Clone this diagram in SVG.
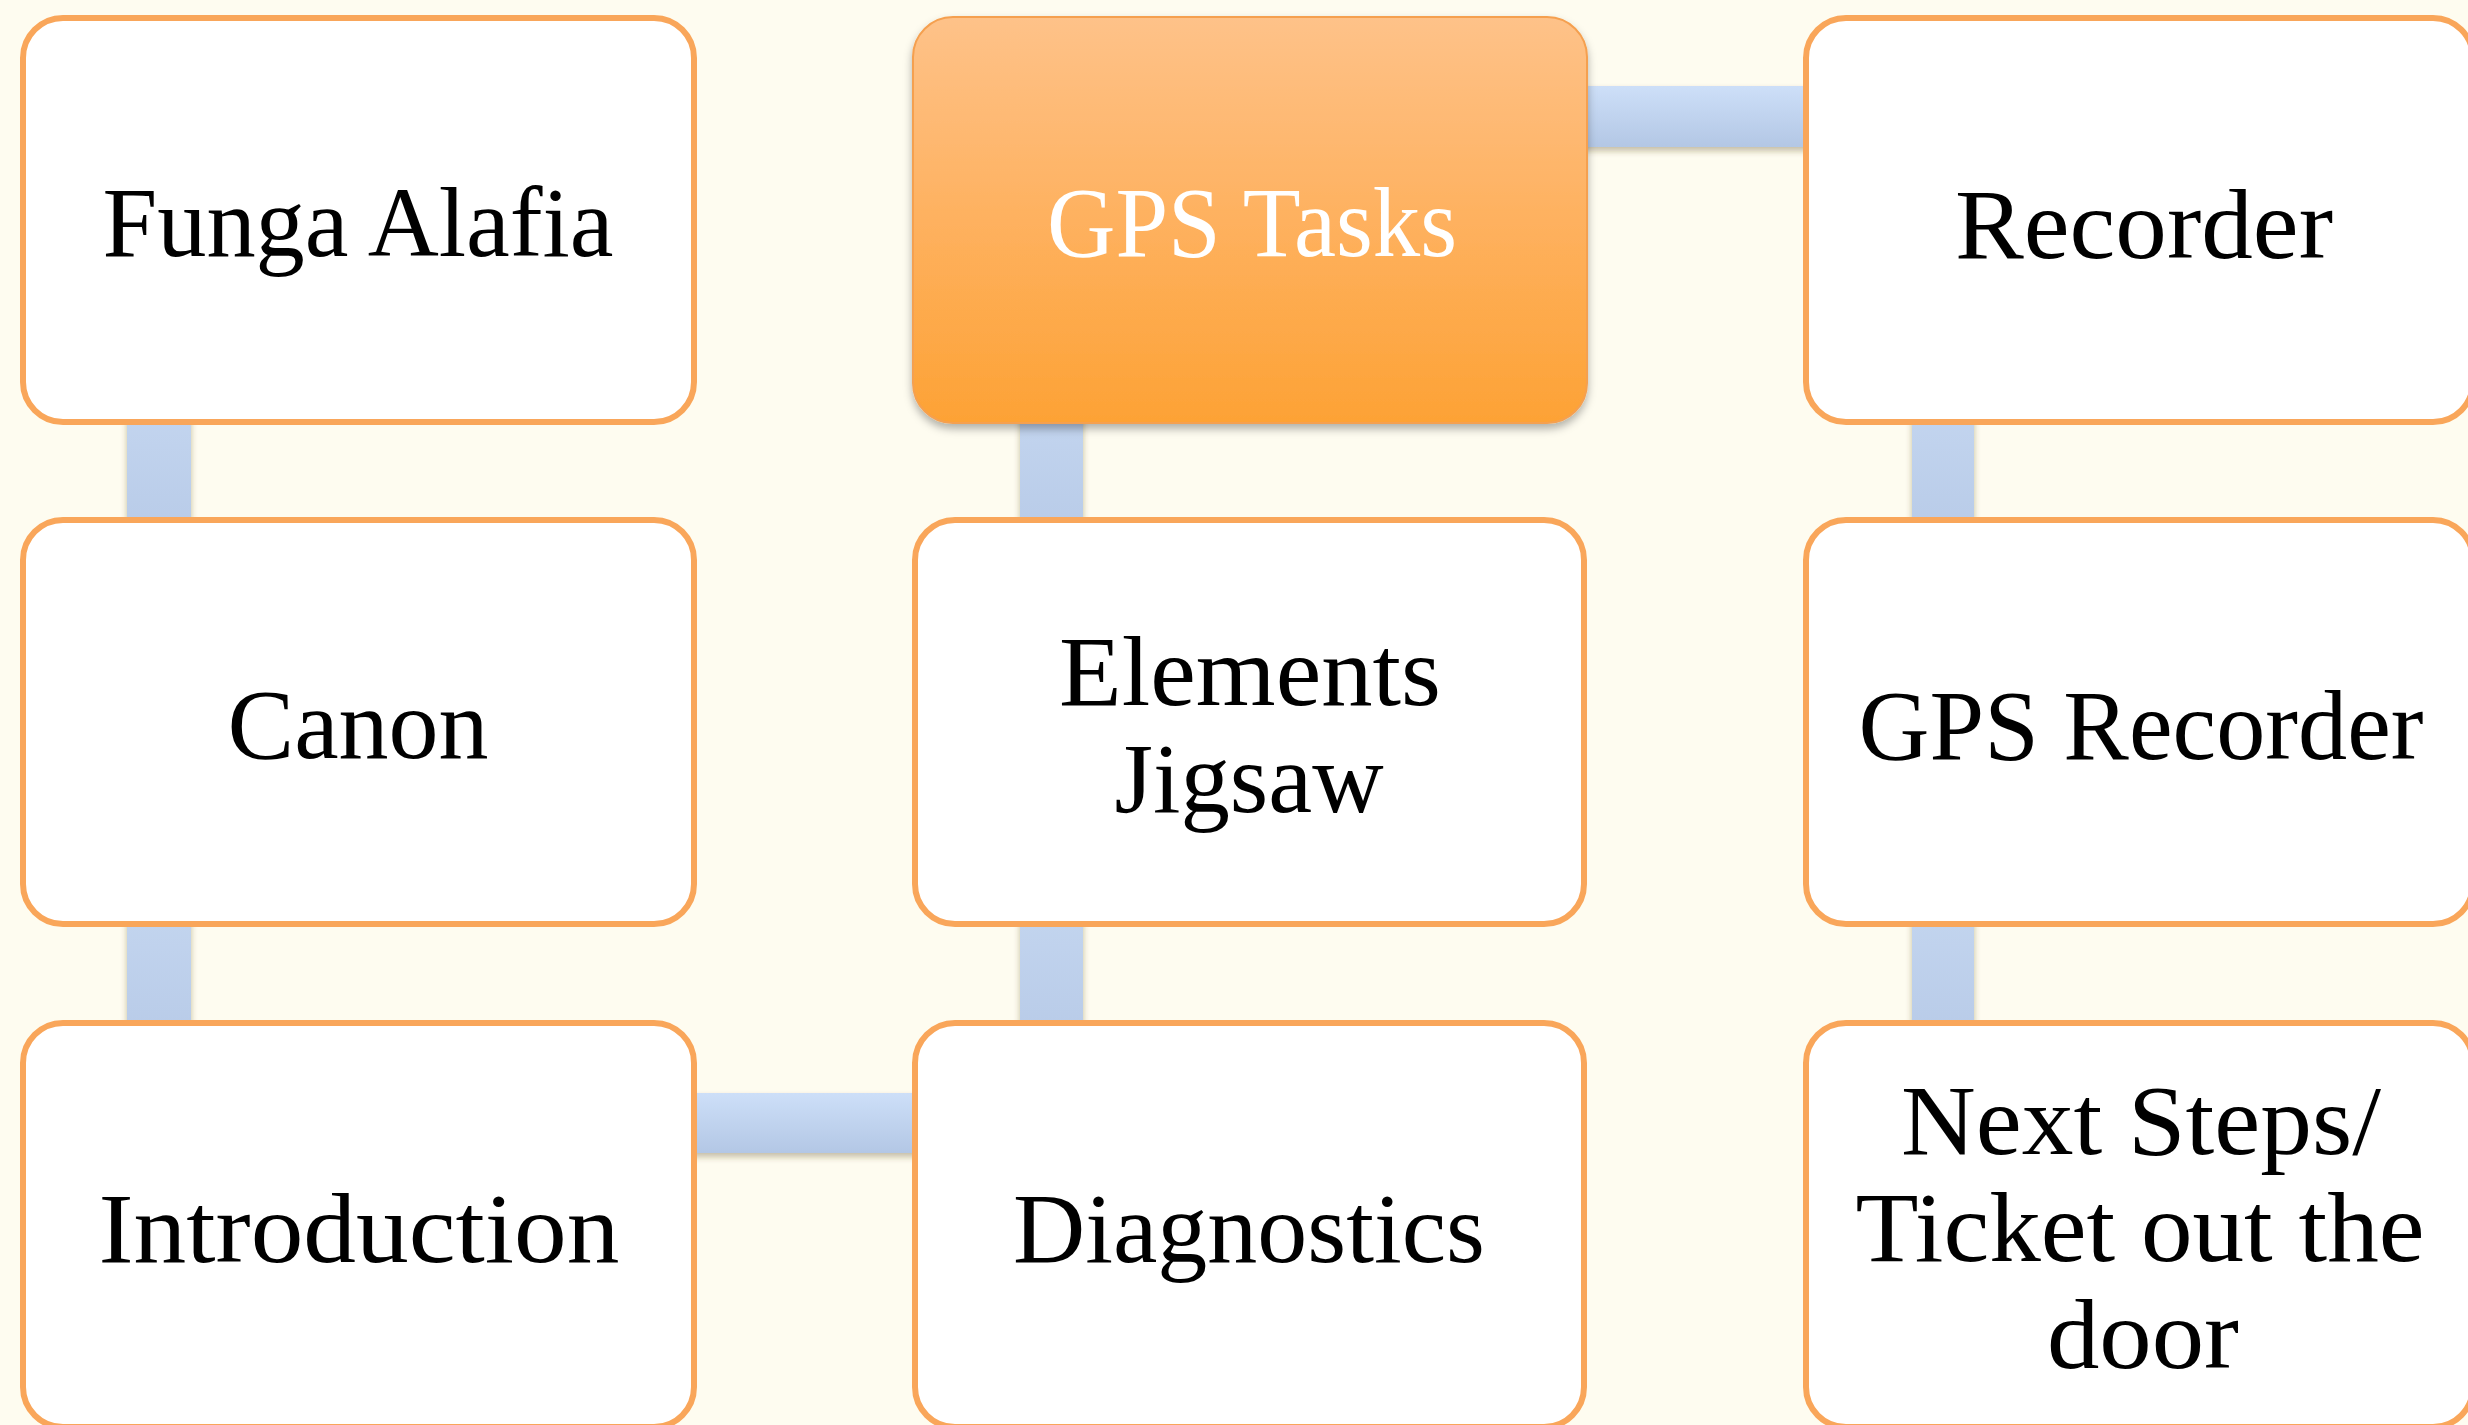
<svg xmlns="http://www.w3.org/2000/svg" width="2468" height="1425" viewBox="0 0 2468 1425">
<style>
  .box { fill: #FFFFFF; stroke: #F9A65A; stroke-width: 6; }
  .lbl { font-family: "Liberation Serif", "DejaVu Serif", serif; font-size: 100px; fill: #000000; text-anchor: middle; }
  .lblw { font-family: "Liberation Serif", "DejaVu Serif", serif; font-size: 100px; fill: #FFFFFF; text-anchor: middle; }
</style>
<defs>
  <linearGradient id="orangeGrad" x1="0" y1="0" x2="0" y2="1">
    <stop offset="0" stop-color="#FEC289"/>
    <stop offset="0.5" stop-color="#FEB15F"/>
    <stop offset="1" stop-color="#FDA235"/>
  </linearGradient>
  <linearGradient id="connH" x1="0" y1="0" x2="0" y2="1">
    <stop offset="0" stop-color="#CDDFF8"/>
    <stop offset="1" stop-color="#B3C7E5"/>
  </linearGradient>
  <linearGradient id="connV" x1="0" y1="0" x2="0" y2="1">
    <stop offset="0" stop-color="#C3D5EF"/>
    <stop offset="1" stop-color="#B8CBE8"/>
  </linearGradient>
  <filter id="shadow" x="-10%" y="-10%" width="120%" height="130%">
    <feDropShadow dx="0" dy="5" stdDeviation="4" flood-color="#000000" flood-opacity="0.3"/>
  </filter>
  <filter id="cshadow" x="-10%" y="-20%" width="120%" height="160%">
    <feDropShadow dx="0" dy="4" stdDeviation="3" flood-color="#5A4A20" flood-opacity="0.35"/>
  </filter>
</defs>
<rect x="0" y="0" width="2468" height="1425" fill="#FEFCF0"/>

<g id="connectors" filter="url(#cshadow)">
  <rect x="127" y="410" width="64" height="125" fill="url(#connV)"/>
  <rect x="127" y="912" width="64" height="125" fill="url(#connV)"/>
  <rect x="1020" y="410" width="63" height="125" fill="url(#connV)"/>
  <rect x="1020" y="912" width="63" height="125" fill="url(#connV)"/>
  <rect x="1912" y="410" width="62" height="125" fill="url(#connV)"/>
  <rect x="1912" y="912" width="62" height="125" fill="url(#connV)"/>
  <rect x="1580" y="86" width="235" height="61" fill="url(#connH)"/>
  <rect x="690" y="1093" width="230" height="60" fill="url(#connH)"/>
</g>

<g id="node-funga-alafia">
  <rect class="box" x="23" y="18" width="671" height="404" rx="40" ry="40"/>
  <text class="lbl" x="358" y="256" textLength="511" lengthAdjust="spacingAndGlyphs">Funga Alafia</text>
</g>

<g id="node-gps-tasks">
  <rect x="913" y="17" width="674" height="406" rx="40" ry="40" fill="url(#orangeGrad)" stroke="#F5A050" stroke-width="2" filter="url(#shadow)"/>
  <text class="lblw" x="1252" y="256" textLength="410" lengthAdjust="spacingAndGlyphs">GPS Tasks</text>
</g>

<g id="node-recorder">
  <rect class="box" x="1806" y="18" width="667" height="404" rx="40" ry="40"/>
  <text class="lbl" x="2144" y="258" textLength="378" lengthAdjust="spacingAndGlyphs">Recorder</text>
</g>

<g id="node-canon">
  <rect class="box" x="23" y="520" width="671" height="404" rx="40" ry="40"/>
  <text class="lbl" x="358" y="758" textLength="261" lengthAdjust="spacingAndGlyphs">Canon</text>
</g>

<g id="node-elements-jigsaw">
  <rect class="box" x="915" y="520" width="669" height="404" rx="40" ry="40"/>
  <text class="lbl" x="1250" y="705" textLength="382" lengthAdjust="spacingAndGlyphs">Elements</text>
  <text class="lbl" x="1249" y="812" textLength="269" lengthAdjust="spacingAndGlyphs">Jigsaw</text>
</g>

<g id="node-gps-recorder">
  <rect class="box" x="1806" y="520" width="667" height="404" rx="40" ry="40"/>
  <text class="lbl" x="2141" y="759" textLength="565" lengthAdjust="spacingAndGlyphs">GPS Recorder</text>
</g>

<g id="node-introduction">
  <rect class="box" x="23" y="1023" width="671" height="404" rx="40" ry="40"/>
  <text class="lbl" x="359" y="1262" textLength="521" lengthAdjust="spacingAndGlyphs">Introduction</text>
</g>

<g id="node-diagnostics">
  <rect class="box" x="915" y="1023" width="669" height="404" rx="40" ry="40"/>
  <text class="lbl" x="1249" y="1262" textLength="472" lengthAdjust="spacingAndGlyphs">Diagnostics</text>
</g>

<g id="node-next-steps">
  <rect class="box" x="1806" y="1023" width="667" height="404" rx="40" ry="40"/>
  <text class="lbl" x="2141" y="1154" textLength="480" lengthAdjust="spacingAndGlyphs">Next Steps/</text>
  <text class="lbl" x="2140" y="1261" textLength="569" lengthAdjust="spacingAndGlyphs">Ticket out the</text>
  <text class="lbl" x="2143" y="1368" textLength="192" lengthAdjust="spacingAndGlyphs">door</text>
</g>
</svg>
